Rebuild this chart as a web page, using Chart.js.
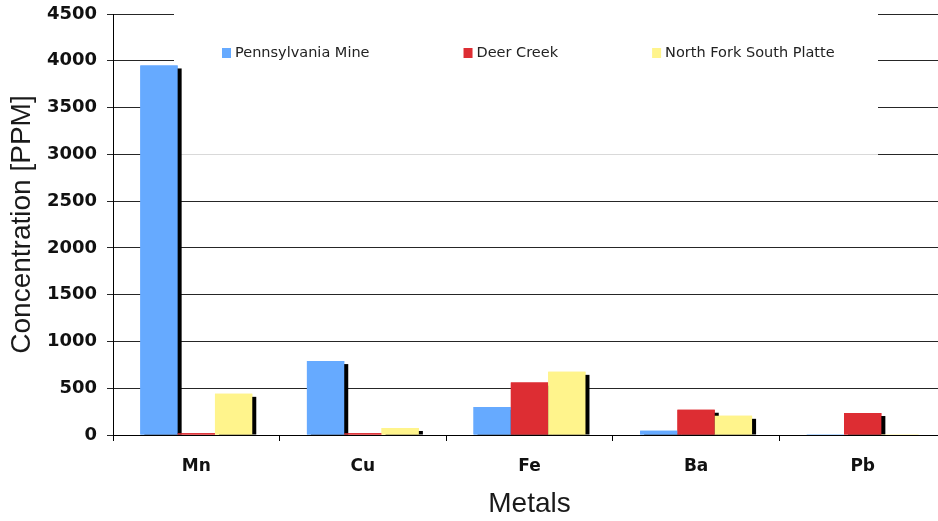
<!DOCTYPE html>
<html>
<head>
<meta charset="utf-8">
<script src="https://cdn.jsdelivr.net/npm/chart.js@4"></script>
<style>
  html, body { margin: 0; padding: 0; background: #fff; overflow: hidden; }
  #wrap { width: 950px; height: 521px; position: relative; }
</style>
</head>
<body>
<div id="wrap"><canvas id="chart"></canvas></div>
<script>
// Metal concentrations (PPM) by sampling site
const categories = ['Mn', 'Cu', 'Fe', 'Ba', 'Pb'];
const seriesNames = ['Pennsylvania Mine', 'Deer Creek', 'North Fork South Platte'];
const pennsylvaniaMine = [3950, 790, 300, 45, 3];
const deerCreek = [20, 20, 560, 270, 235];
const northForkSouthPlatte = [440, 75, 675, 205, 3];
const yMin = 0, yMax = 4500, yStep = 500;

const seriesColors = ['#66aaff', '#dd2d33', '#fff48c'];

// White legend panel over the top of the plot, drawn after the grid
const legendPanel = {
  id: 'legendPanel',
  beforeDatasetsDraw(chart) {
    const { ctx, chartArea, scales } = chart;
    const left = chartArea.left + 61;
    const right = 878;
    const bottom = Math.round(scales.y.getPixelForValue(3000)) + 0.5;
    ctx.save();
    ctx.fillStyle = '#ffffff';
    ctx.fillRect(left, 0, right - left, bottom + 0.5);
    ctx.strokeStyle = '#d9d9d9';
    ctx.lineWidth = 1;
    ctx.beginPath();
    ctx.moveTo(left, bottom);
    ctx.lineTo(right, bottom);
    ctx.stroke();
    ctx.restore();
  },
  afterDraw(chart) {
    const ctx = chart.ctx;
    ctx.save();
    ctx.font = '14.5px "DejaVu Sans"';
    ctx.textBaseline = 'middle';
    ctx.textAlign = 'left';
    let x = 222;
    chart.data.datasets.forEach((ds) => {
      ctx.fillStyle = ds.backgroundColor;
      ctx.fillRect(x, 48, 9, 10);
      ctx.fillStyle = '#222222';
      ctx.fillText(ds.label, x + 13, 53);
      x += 13 + ctx.measureText(ds.label).width + 94;
    });
    ctx.restore();
  }
};

// Black drop shadow on the right of each bar; series painted in order so
// later bars sit over the shadows of earlier ones
const barShadows = {
  id: 'barShadows',
  afterDatasetsDraw(chart) {
    const { ctx, chartArea } = chart;
    ctx.save();
    ctx.beginPath();
    ctx.rect(chartArea.left, chartArea.top - 20, chartArea.right - chartArea.left, chartArea.bottom - chartArea.top + 20);
    ctx.clip();
    chart.data.datasets.forEach((ds, i) => {
      const meta = chart.getDatasetMeta(i);
      if (meta.hidden) return;
      ctx.fillStyle = '#000000';
      meta.data.forEach((el) => {
        const { x, y, base, width } = el.getProps(['x', 'y', 'base', 'width'], true);
        const top = y + 3;
        if (top >= base) return;
        ctx.fillRect(x - width / 2 + 4, top, width, base - top);
      });
      meta.data.forEach((el) => el.draw(ctx));
    });
    ctx.restore();
  }
};

const datasetValues = [pennsylvaniaMine, deerCreek, northForkSouthPlatte];

new Chart(document.getElementById('chart'), {
  type: 'bar',
  data: {
    labels: categories,
    datasets: seriesNames.map((name, i) => ({
      label: name,
      data: datasetValues[i],
      backgroundColor: seriesColors[i],
      borderWidth: 0,
      categoryPercentage: 0.672,
      barPercentage: 1.0
    }))
  },
  options: {
    responsive: true,
    maintainAspectRatio: false,
    animation: false,
    layout: { padding: { top: 14, right: 4, left: 0, bottom: 0 } },
    plugins: {
      legend: { display: false },
      tooltip: { enabled: false }
    },
    scales: {
      x: {
        grid: {
          display: true,
          drawOnChartArea: false,
          drawTicks: true,
          tickLength: 6,
          color: '#000000',
          offset: true
        },
        border: { display: true, color: '#000000', width: 1 },
        ticks: {
          color: '#111111',
          padding: 15,
          font: { family: '"DejaVu Sans"', size: 17, weight: 'bold' }
        },
        title: {
          display: true,
          text: 'Metals',
          color: '#1a1a1a',
          font: { family: '"Liberation Sans"', size: 28, lineHeight: 1 },
          padding: { top: 0, bottom: 3 }
        },
        afterFit(scale) { scale.height = 86; }
      },
      y: {
        min: yMin,
        max: yMax,
        grid: {
          color: '#262626',
          lineWidth: 1,
          drawTicks: true,
          tickLength: 6
        },
        border: { display: true, color: '#000000', width: 1 },
        ticks: {
          stepSize: yStep,
          color: '#111111',
          padding: 10,
          font: { family: '"DejaVu Sans"', size: 18, weight: 'bold', lineHeight: 0.3 },
          callback: (value) => String(value)
        },
        title: {
          display: true,
          text: 'Concentration [PPM]',
          color: '#1a1a1a',
          font: { family: '"Liberation Sans"', size: 28, lineHeight: 1 },
          padding: { top: 8, bottom: 0 }
        },
        afterFit(scale) { scale.width = 113; }
      }
    }
  },
  plugins: [legendPanel, barShadows]
});
</script>
</body>
</html>
